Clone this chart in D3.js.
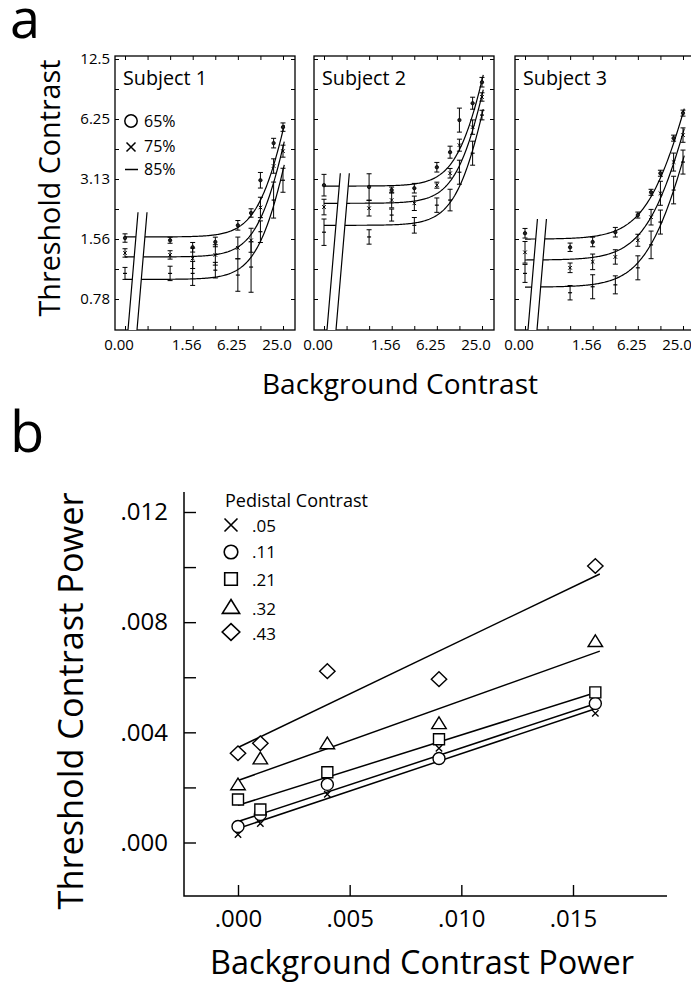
<!DOCTYPE html>
<html>
<head>
<meta charset="utf-8">
<script src="https://cdn.jsdelivr.net/npm/d3@7"></script>
<style>
  html, body { margin: 0; padding: 0; background: #fff; }
  svg { display: block; }
</style>
</head>
<body>
<svg id="chart" width="691" height="986"></svg>
<script>
// ---------- Panel a: threshold contrast vs background contrast ----------
const subjects = ["Subject 1", "Subject 2", "Subject 3"];
const criteria = ["65%", "75%", "85%"];
const backgrounds = [0, 0.78, 1.56, 3.13, 6.25, 9.38, 12.5, 18.75, 25];
const backgroundTickValues = [0, 1.5625, 6.25, 25];
const backgroundTickLabels = ["0.00", "1.56", "6.25", "25.0"];
const thresholdTickValues = [12.5, 6.25, 3.125, 1.5625, 0.78125];
const thresholdTickLabels = ["12.5", "6.25", "3.13", "1.56", "0.78"];

// thresholds per subject, one row per criterion (65%, 75%, 85%)
const subject1Thresholds = [
  [1.58, 1.54, 1.42, 1.51, 1.83, 2.11, 3.08, 4.73, 5.69],
  [1.33, 1.30, 1.25, 1.30, 1.41, 1.54, 2.25, 3.63, 4.31],
  [1.05, 1.05, 1.05, 1.09, 1.03, 1.13, 1.70, 2.45, 3.08]
];
const subject2Thresholds = [
  [2.91, 2.85, 2.75, 2.81, 3.58, 4.26, 6.17, 7.50, 9.56],
  [2.26, 2.23, 2.45, 2.36, 2.91, 3.34, 4.62, 5.69, 8.06],
  [1.69, 1.60, 2.06, 1.83, 2.31, 2.45, 3.38, 4.21, 6.54]
];
const subject3Thresholds = [
  [1.67, 1.42, 1.51, 1.69, 2.06, 2.68, 3.34, 5.01, 6.69],
  [1.34, 1.12, 1.20, 1.27, 1.54, 2.01, 2.65, 3.80, 5.19],
  [1.05, 0.84, 0.90, 0.92, 1.12, 1.46, 1.90, 2.75, 3.80]
];
// error half-widths, in log2 units of threshold
const subject1Err = [
  [0.07, 0.05, 0.08, 0.08, 0.08, 0.07, 0.13, 0.08, 0.07],
  [0.07, 0.07, 0.17, 0.17, 0.18, 0.20, 0.17, 0.12, 0.10],
  [0.10, 0.12, 0.20, 0.13, 0.27, 0.42, 0.18, 0.30, 0.20]
];
const subject2Err = [
  [0.18, 0.22, 0.05, 0.08, 0.08, 0.10, 0.20, 0.10, 0.08],
  [0.13, 0.13, 0.13, 0.12, 0.05, 0.08, 0.10, 0.12, 0.07],
  [0.22, 0.12, 0.10, 0.13, 0.12, 0.18, 0.20, 0.20, 0.08]
];
const subject3Err = [
  [0.08, 0.07, 0.08, 0.08, 0.05, 0.05, 0.05, 0.05, 0.05],
  [0.18, 0.08, 0.13, 0.12, 0.10, 0.13, 0.20, 0.15, 0.12],
  [0.15, 0.12, 0.20, 0.15, 0.20, 0.23, 0.20, 0.23, 0.20]
];
// fitted curves: T = T0 * (1 + (bg / c)^s), rows [T0, c, s]
const subject1Fit = [[1.60, 16.7, 2.2], [1.27, 16.3, 2.2], [0.98, 16.4, 2.2]];
const subject2Fit = [[2.88, 16.8, 2.2], [2.36, 16.5, 2.2], [1.83, 16.2, 2.2]];
const subject3Fit = [[1.56, 12.3, 1.68], [1.225, 12.2, 1.68], [0.896, 12.2, 1.68]];
// height of the axis-break band in each panel (threshold units)
const breakTops = [2.13, 3.34, 1.97];

// ---------- Panel b: threshold power vs background power ----------
const pedestals = [".05", ".11", ".21", ".32", ".43"];
const backgroundPower = [0, 0.001, 0.004, 0.009, 0.016];
const power05 = [0.00029, 0.00069, 0.00175, 0.00342, 0.00469];
const power11 = [0.00058, 0.00102, 0.00211, 0.00305, 0.00505];
const power21 = [0.00156, 0.00120, 0.00255, 0.00375, 0.00545];
const power32 = [0.00211, 0.00305, 0.00360, 0.00433, 0.00731];
const power43 = [0.00324, 0.00360, 0.00622, 0.00593, 0.01004];
const fitRange = [0, 0.0162];
const fitStart = [0.00051, 0.00076, 0.00135, 0.00225, 0.00345];
const fitEnd = [0.00491, 0.00509, 0.00549, 0.00695, 0.00975];
const powerYTicks = [0, 0.002, 0.004, 0.006, 0.008, 0.010, 0.012];
const powerYLabels = [0, 0.004, 0.008, 0.012];
const powerXTicks = [0, 0.005, 0.010, 0.015];

// ---------------------------------------------------------------
const FONT = '"Open Sans", "Noto Sans", sans-serif';
const svg = d3.select("#chart").style("font-family", FONT);

function fitWidth(sel, w) {
  sel.attr("font-size", 100);
  const m = sel.node().getComputedTextLength();
  sel.attr("font-size", (100 * w / m).toFixed(2));
  return sel;
}

// panel letters
svg.append("text").attr("x", 10).attr("y", 38).attr("font-size", 54).text("a");
svg.append("text").attr("x", 10).attr("y", 452).attr("font-size", 56).text("b");

// ---------- draw panel a ----------
const allThresholds = [subject1Thresholds, subject2Thresholds, subject3Thresholds];
const allErr = [subject1Err, subject2Err, subject3Err];
const allFits = [subject1Fit, subject2Fit, subject3Fit];

const boxLefts = [115, 314, 515], boxW = 180, boxTop = 56, boxBottom = 330;
const octavePx = 22.57;
const zeroStandIn = 25 / 128;   // where the 0.00 background sits on the log axis
const yA = d3.scaleLog().base(2).domain([0.78125, 12.5]).range([299, 59]);
const yTickVals = d3.range(9).map(k => 12.5 * Math.pow(2, -k / 2));

const fitValue = (p, bg) => p[0] * (1 + Math.pow(bg / p[1], p[2]));

subjects.forEach((name, i) => {
  const left = boxLefts[i];
  const xA = d3.scaleLog().base(2)
    .domain([zeroStandIn, 25])
    .range([left + 10, left + 10 + 7 * octavePx]);
  const xPos = v => xA(v === 0 ? zeroStandIn : v);
  const g = svg.append("g");

  g.append("rect")
    .attr("x", left).attr("y", boxTop)
    .attr("width", boxW).attr("height", boxBottom - boxTop)
    .attr("fill", "none").attr("stroke", "#000").attr("stroke-width", 1.3);

  const xTickVals = d3.range(8).map(k => zeroStandIn * Math.pow(2, k));
  // inner ticks on all four sides
  g.append("g").attr("transform", `translate(0,${boxBottom})`)
    .call(d3.axisBottom(xA).tickValues(xTickVals).tickSize(-4).tickFormat(""))
    .call(s => s.select(".domain").remove());
  g.append("g").attr("transform", `translate(0,${boxTop})`)
    .call(d3.axisTop(xA).tickValues(xTickVals).tickSize(-4).tickFormat(""))
    .call(s => s.select(".domain").remove());
  g.append("g").attr("transform", `translate(${left},0)`)
    .call(d3.axisLeft(yA).tickValues(yTickVals).tickSize(-4).tickFormat(""))
    .call(s => s.select(".domain").remove());
  g.append("g").attr("transform", `translate(${left + boxW},0)`)
    .call(d3.axisRight(yA).tickValues(yTickVals).tickSize(-4).tickFormat(""))
    .call(s => s.select(".domain").remove());
  g.selectAll(".tick line").attr("stroke", "#000").attr("stroke-width", 1);

  // x tick labels
  g.selectAll("text.xl").data(backgroundTickValues).join("text")
    .attr("x", d => xPos(d) - 6).attr("y", 350)
    .attr("text-anchor", "middle").attr("font-size", 15)
    .text((d, k) => backgroundTickLabels[k]);

  // fitted curves
  const samples = d3.range(0, 1.0001, 1 / 150).map(t => zeroStandIn * Math.pow(26 / zeroStandIn, t));
  const line = d3.line().x(d => xA(d[0])).y(d => yA(d[1]));
  allFits[i].forEach(p => {
    g.append("path")
      .attr("d", line(samples.map(bg => [bg, fitValue(p, bg)])))
      .attr("fill", "none").attr("stroke", "#000").attr("stroke-width", 1.2);
  });

  // error bars and markers
  allThresholds[i].forEach((row, r) => {
    row.forEach((v, k) => {
      const e = allErr[i][r][k];
      const cx = xPos(backgrounds[k]);
      const y0 = yA(v * Math.pow(2, -e)), y1 = yA(v * Math.pow(2, e));
      g.append("path")
        .attr("d", `M${cx},${y0}V${y1}M${cx - 2.5},${y0}H${cx + 2.5}M${cx - 2.5},${y1}H${cx + 2.5}`)
        .attr("stroke", "#000").attr("stroke-width", 1).attr("fill", "none");
      const cy = yA(v);
      if (r === 0) {
        g.append("circle").attr("cx", cx).attr("cy", cy).attr("r", 1.7)
          .attr("fill", "#222").attr("stroke", "#000").attr("stroke-width", 0.8);
      } else if (r === 1) {
        g.append("path").attr("d", `M${cx - 1.8},${cy - 1.8}L${cx + 1.8},${cy + 1.8}M${cx - 1.8},${cy + 1.8}L${cx + 1.8},${cy - 1.8}`)
          .attr("stroke", "#000").attr("stroke-width", 1);
      } else {
        g.append("path").attr("d", `M${cx - 2},${cy}H${cx + 2}`)
          .attr("stroke", "#000").attr("stroke-width", 1.2);
      }
    });
  });

  // axis break between 0.00 and the log range
  const topY = yA(breakTops[i]);
  const tilt = 0.085 * (boxBottom - topY);
  const bl = left + 13, br = left + 22;
  g.append("path")
    .attr("d", `M${bl},${boxBottom}L${bl + tilt},${topY}L${br + tilt},${topY}L${br},${boxBottom}Z`)
    .attr("fill", "#fff").attr("stroke", "none");
  g.append("path")
    .attr("d", `M${bl},${boxBottom}L${bl + tilt},${topY}M${br},${boxBottom}L${br + tilt},${topY}`)
    .attr("stroke", "#000").attr("stroke-width", 1.2).attr("fill", "none");

  // subject title
  fitWidth(g.append("text").attr("x", left + 8).attr("y", 85).text(name), 84);
});

// y tick labels (left panel only)
svg.append("g").selectAll("text").data(thresholdTickValues).join("text")
  .attr("x", 110).attr("y", d => yA(d)).attr("dy", "0.35em")
  .attr("text-anchor", "end").attr("font-size", 15)
  .text((d, k) => thresholdTickLabels[k]);

// legend in subject 1
const legA = svg.append("g");
legA.append("circle").attr("cx", 131).attr("cy", 121).attr("r", 6.2)
  .attr("fill", "none").attr("stroke", "#000").attr("stroke-width", 1.5);
legA.append("path").attr("d", "M126.5,142.5L135.5,151.5M126.5,151.5L135.5,142.5")
  .attr("stroke", "#000").attr("stroke-width", 1.5);
legA.append("path").attr("d", "M125,169.5H138").attr("stroke", "#000").attr("stroke-width", 1.5);
[127, 152, 175].forEach((y, k) => {
  legA.append("text").attr("x", 144).attr("y", y).attr("font-size", 16).text(criteria[k]);
});

// axis titles, panel a
fitWidth(svg.append("text").attr("text-anchor", "middle")
  .attr("transform", "translate(60,188) rotate(-90)").text("Threshold Contrast"), 257);
fitWidth(svg.append("text").attr("text-anchor", "middle")
  .attr("x", 400).attr("y", 394).text("Background Contrast"), 276);

// ---------- draw panel b ----------
const xB = d3.scaleLinear().domain([0, 0.015]).range([238, 573]);
const yB = d3.scaleLinear().domain([0, 0.012]).range([842.5, 512]);
const gb = svg.append("g");
const axisX0 = 184, axisY0 = 896;

gb.append("path").attr("d", `M${axisX0},492V${axisY0}H667`)
  .attr("fill", "none").attr("stroke", "#000").attr("stroke-width", 1.5);

gb.append("g").attr("transform", `translate(${axisX0},0)`)
  .call(d3.axisLeft(yB).tickValues(powerYTicks).tickSize(-12).tickPadding(16)
    .tickFormat(d => powerYLabels.some(v => Math.abs(v - d) < 1e-9) ? d3.format(".3f")(d).replace(/^0/, "") : ""))
  .call(s => s.select(".domain").remove())
  .call(s => s.selectAll("text").attr("font-size", 24).attr("font-family", FONT).attr("fill", "#000"))
  .call(s => s.selectAll("line").attr("stroke", "#000").attr("stroke-width", 1.4));

gb.append("g").attr("transform", `translate(0,${axisY0})`)
  .call(d3.axisBottom(xB).tickValues(powerXTicks).tickSize(-11).tickPadding(14)
    .tickFormat(d => d3.format(".3f")(d).replace(/^0/, "")))
  .call(s => s.select(".domain").remove())
  .call(s => s.selectAll("text").attr("font-size", 24).attr("font-family", FONT).attr("fill", "#000").attr("dy", "0.71em"))
  .call(s => s.selectAll("line").attr("stroke", "#000").attr("stroke-width", 1.4));

// marker shapes, drawn at a given half-size
const shapes = {
  x: (s) => `M${-s},${-s}L${s},${s}M${-s},${s}L${s},${-s}`,
  circle: (s) => `M${s},0A${s},${s} 0 1,1 ${-s},0A${s},${s} 0 1,1 ${s},0Z`,
  square: (s) => `M${-s},${-s}H${s}V${s}H${-s}Z`,
  triangle: (s) => `M0,${-s * 1.0}L${s * 1.15},${s * 0.85}L${-s * 1.15},${s * 0.85}Z`,
  diamond: (s) => `M0,${-s * 1.05}L${s * 1.1},0L0,${s * 1.05}L${-s * 1.1},0Z`
};
const shapeOrder = ["x", "circle", "square", "triangle", "diamond"];
const dataSize = [3.2, 6, 5.5, 6.3, 7];
const legendSize = [6.5, 6.8, 6.3, 7.5, 8];
const powerSeries = [power05, power11, power21, power32, power43];

// regression lines
pedestals.forEach((p, k) => {
  gb.append("line")
    .attr("x1", xB(fitRange[0])).attr("y1", yB(fitStart[k]))
    .attr("x2", xB(fitRange[1])).attr("y2", yB(fitEnd[k]))
    .attr("stroke", "#000").attr("stroke-width", 1.5);
});
// data markers
powerSeries.forEach((vals, k) => {
  gb.selectAll(null).data(vals).join("path")
    .attr("transform", (d, j) => `translate(${xB(backgroundPower[j])},${yB(d)})`)
    .attr("d", shapes[shapeOrder[k]](dataSize[k]))
    .attr("fill", shapeOrder[k] === "x" ? "none" : "#fff")
    .attr("stroke", "#000").attr("stroke-width", 1.4);
});

// legend
fitWidth(gb.append("text").attr("x", 225).attr("y", 507).text("Pedistal Contrast"), 143);
const legY = [525, 552, 579, 607, 632];
const legTextY = [532, 558, 586, 615, 640];
pedestals.forEach((p, k) => {
  gb.append("path").attr("transform", `translate(231,${legY[k]})`)
    .attr("d", shapes[shapeOrder[k]](legendSize[k]))
    .attr("fill", "none").attr("stroke", "#000").attr("stroke-width", 1.6);
  gb.append("text").attr("x", 252).attr("y", legTextY[k]).attr("font-size", 17).text(p);
});

// axis titles, panel b
fitWidth(svg.append("text").attr("text-anchor", "middle")
  .attr("transform", "translate(83,701) rotate(-90)").text("Threshold Contrast Power"), 417);
fitWidth(svg.append("text").attr("text-anchor", "middle")
  .attr("x", 422).attr("y", 974).text("Background Contrast Power"), 424);
</script>
</body>
</html>
